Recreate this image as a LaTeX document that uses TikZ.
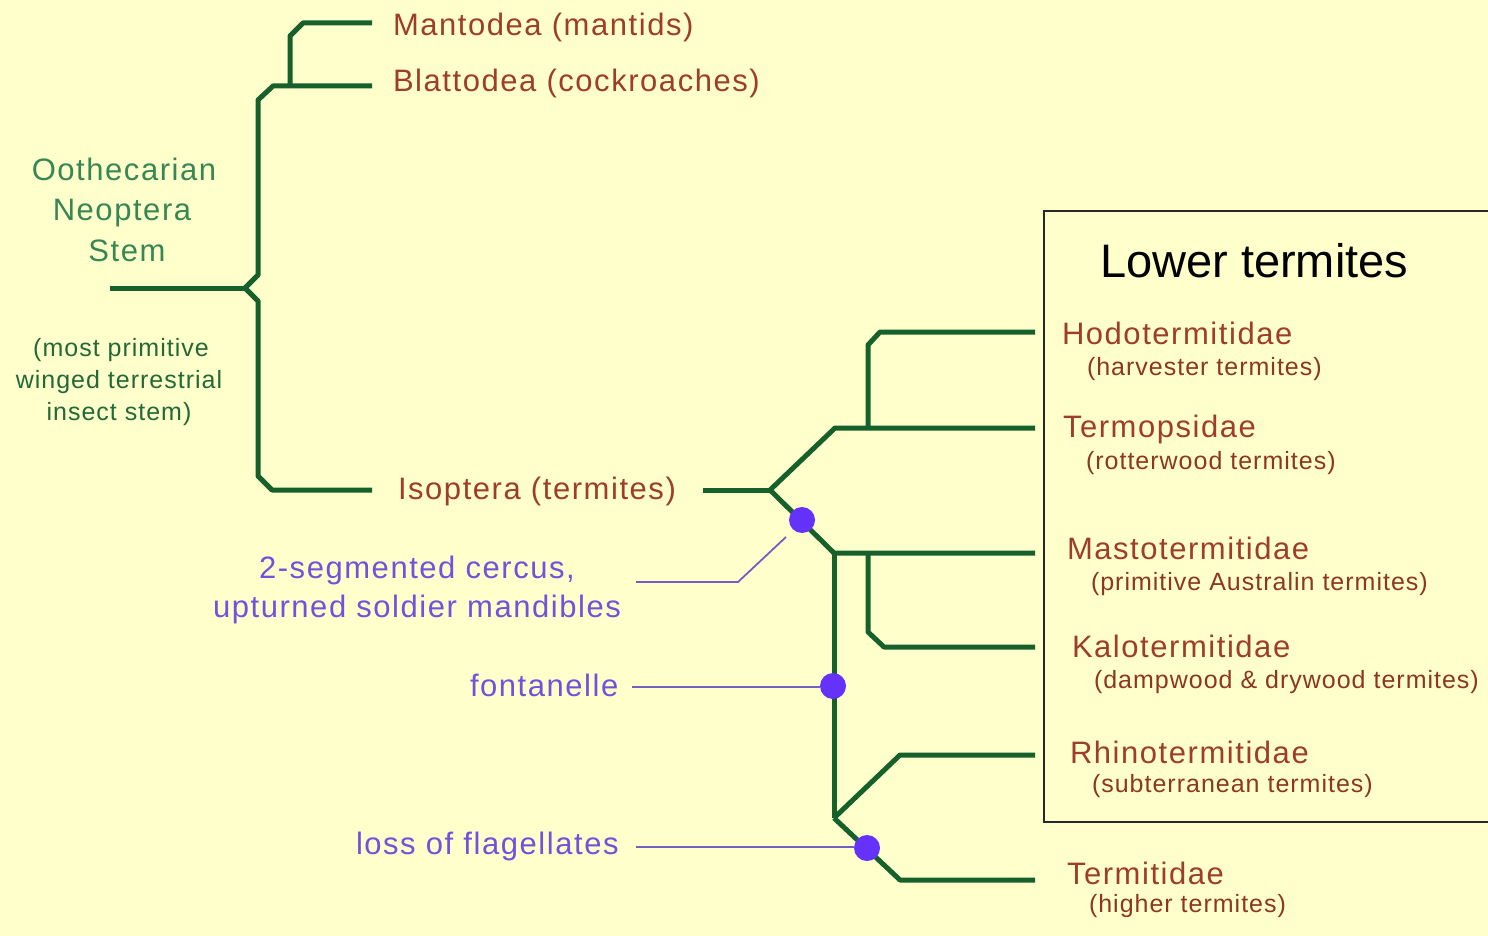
\documentclass[tikz,border=0pt]{standalone}
\usepackage{fontspec}
\setmainfont{Liberation Sans}
\newfontfamily\spacedfont[LetterSpace=5]{Liberation Sans}
\newfontfamily\smallspacedfont[LetterSpace=4]{Liberation Sans}
\definecolor{paper}{RGB}{255,255,204}
\definecolor{treegreen}{RGB}{22,96,44}
\definecolor{taxon}{RGB}{158,62,40}
\definecolor{subtaxon}{RGB}{140,55,30}
\definecolor{stemtext}{RGB}{55,135,85}
\definecolor{notetext}{RGB}{35,105,55}
\definecolor{traittext}{RGB}{112,82,220}
\definecolor{traitdot}{RGB}{100,50,250}
\definecolor{traitline}{RGB}{115,95,195}
\definecolor{boxline}{RGB}{40,40,40}
\begin{document}
\begin{tikzpicture}[x=1pt,y=-1pt,
  branch/.style={draw=treegreen,line width=5pt,line join=round},
  traitlink/.style={draw=traitline,line width=1.8pt},
  traitdotstyle/.style={circle,fill=traitdot,inner sep=0pt,minimum size=26pt},
  txt/.style={inner sep=0pt,outer sep=0pt,anchor=base west},
  bigtaxon/.style={txt,text=taxon,font=\spacedfont\fontsize{31}{31}\selectfont},
  subtaxonlabel/.style={txt,text=subtaxon,font=\smallspacedfont\fontsize{25}{25}\selectfont},
  stemlabel/.style={txt,anchor=base,text=stemtext,font=\spacedfont\fontsize{31}{31}\selectfont},
  notelabel/.style={txt,anchor=base,text=notetext,font=\smallspacedfont\fontsize{25}{25}\selectfont},
  traitlabel/.style={txt,text=traittext,font=\spacedfont\fontsize{31}{31}\selectfont}]

% canvas
\fill[paper] (0,0) rectangle (1488,936);
\useasboundingbox (0,0) rectangle (1488,936);

% box around the lower termites
\draw[boxline,line width=2pt] (1488,211) -- (1044,211) -- (1044,822) -- (1488,822);
\node[txt,font=\fontsize{47}{47}\selectfont,text=black] (lower) at (1100,277) {Lower termites};

% ---- upper tree: oothecarian stem ----
\coordinate (root) at (110,288);
\coordinate (fork) at (245,288);
\coordinate (blatEnd) at (372,86);
\coordinate (mantSplit) at (290,86);
\coordinate (mantEnd) at (372,23);
\coordinate (isoEnd) at (372,490);

\draw[branch] (root) -- (fork);
\draw[branch] (fork) -- (258,275) -- (258,100) -- (273,86) -- (blatEnd);
\draw[branch] (mantSplit) -- (290,36) -- (303,23) -- (mantEnd);
\draw[branch] (fork) -- (258,301) -- (258,476) -- (272,490) -- (isoEnd);

\node[bigtaxon] (mant) at (393,36) {Mantodea (mantids)};
\node[bigtaxon] (blat) at (393,92) {Blattodea (cockroaches)};
\node[bigtaxon] (iso) at (398,499) {Isoptera (termites)};

\node[stemlabel] (stemA) at (124,181) {Oothecarian};
\node[stemlabel] (stemB) at (122,221) {Neoptera};
\node[stemlabel] (stemC) at (127,261) {Stem};

\node[notelabel] (noteA) at (121,356) {(most primitive};
\node[notelabel] (noteB) at (119,388) {winged terrestrial};
\node[notelabel] (noteC) at (119,420) {insect stem)};

% ---- termite tree ----
\coordinate (isoStart) at (703,490);
\coordinate (isoFork) at (770,490);
\coordinate (upFork) at (835,428);
\coordinate (hodoSplit) at (868,428);
\coordinate (lowFork) at (834,553);
\coordinate (kaloSplit) at (868,553);
\coordinate (rhinoFork) at (834,818);
\coordinate (hodoEnd) at (1035,332);
\coordinate (termoEnd) at (1035,428);
\coordinate (mastoEnd) at (1035,553);
\coordinate (kaloEnd) at (1035,647);
\coordinate (rhinoEnd) at (1035,755);
\coordinate (termiEnd) at (1035,880);

\draw[branch] (isoStart) -- (isoFork);
\draw[branch] (isoFork) -- (upFork) -- (termoEnd);
\draw[branch] (hodoSplit) -- (868,345) -- (880,332) -- (hodoEnd);
\draw[branch] (isoFork) -- (lowFork) -- (mastoEnd);
\draw[branch] (kaloSplit) -- (868,632) -- (884,647) -- (kaloEnd);
\draw[branch] (lowFork) -- (rhinoFork);
\draw[branch] (rhinoFork) -- (900,755) -- (rhinoEnd);
\draw[branch] (rhinoFork) -- (900,880) -- (termiEnd);

% family labels
\node[bigtaxon] (hodo) at (1062,344) {Hodotermitidae};
\node[subtaxonlabel] (hodoSub) at (1087,375) {(harvester termites)};
\node[bigtaxon] (termo) at (1063,437) {Termopsidae};
\node[subtaxonlabel] (termoSub) at (1086,469) {(rotterwood termites)};
\node[bigtaxon] (masto) at (1067,559) {Mastotermitidae};
\node[subtaxonlabel] (mastoSub) at (1091,590) {(primitive Australin termites)};
\node[bigtaxon] (kalo) at (1072,657) {Kalotermitidae};
\node[subtaxonlabel] (kaloSub) at (1094,688) {(dampwood \& drywood termites)};
\node[bigtaxon] (rhino) at (1070,763) {Rhinotermitidae};
\node[subtaxonlabel] (rhinoSub) at (1092,792) {(subterranean termites)};
\node[bigtaxon] (termi) at (1067,884) {Termitidae};
\node[subtaxonlabel] (termiSub) at (1089,912) {(higher termites)};

% ---- character changes ----
\node[traitdotstyle] (dotCercus) at (802,520) {};
\node[traitdotstyle] (dotFont) at (833,686) {};
\node[traitdotstyle] (dotFlag) at (867,848) {};

\node[traitlabel,anchor=base] (cercusA) at (417,578) {2-segmented cercus,};
\node[traitlabel,anchor=base] (cercusB) at (417,617) {upturned soldier mandibles};
\node[traitlabel] (font) at (470,696) {fontanelle};
\node[traitlabel] (flag) at (356,854) {loss of flagellates};

\coordinate (cercusFrom) at (636,582);
\coordinate (cercusBend) at (738,582);
\coordinate (cercusTo) at (786,537);
\coordinate (fontFrom) at (632,687);
\coordinate (flagFrom) at (636,847);

\draw[traitlink] (cercusFrom) -- (cercusBend) -- (cercusTo);
\draw[traitlink] (fontFrom) -- (fontFrom -| dotFont.west);
\draw[traitlink] (flagFrom) -- (flagFrom -| dotFlag.west);
\end{tikzpicture}
\end{document}
